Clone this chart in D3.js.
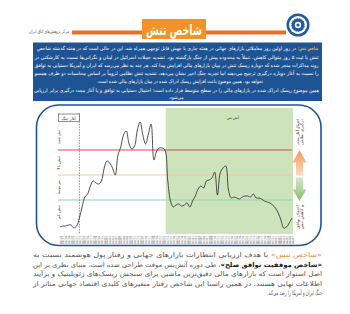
<!DOCTYPE html>
<html>
<head>
<meta charset="utf-8">
<script src="https://cdn.jsdelivr.net/npm/d3@7"></script>
<style>
  body { margin: 0; background: #fff; }
  svg { display: block; font-family: "DejaVu Sans", sans-serif; }
</style>
</head>
<body>
<div id="chart"></div>
<script>
// x-axis date labels (one per observation)
const dates = [
  "03/16","03/17","03/18","03/19","03/20","03/21","03/22","03/23","03/24","03/25",
  "03/26","03/27","03/28","03/29","03/30","03/31","04/01","04/02","04/03","04/04",
  "04/05","04/06","04/07","04/08","04/09","04/10","04/11","04/12","04/13","04/14",
  "04/15","04/16","04/17","04/18","04/19","04/20","04/21","04/22","04/23","04/24",
  "04/25","04/26","04/27","04/28","04/29","04/30","04/31","05/01","05/02","05/03",
  "05/04","05/05","05/06","05/07","05/08","05/09","05/10","05/11","05/12","05/13",
  "05/14","05/15","05/16","05/17","05/18","05/19","05/20","05/21","05/22","05/23",
  "05/24","05/25","05/26","05/27","05/28","05/29","05/30","05/31","06/01","06/02",
  "06/03","06/04","06/05","06/06","06/07"
];

// tension index values
const tension = [
  -2, -1, -1, 0, 0, -3, -1, 7, 18, 28,
  31, 39, 44, 42, 41, 44, 57, 64, 62, 57,
  50, 70, 78, 90, 94, 81, 76, 79, 95, 103,
  90, 81, 91, 101, 65, 74, 77, 77, 75, 45,
  24, 18, 20, 21, 19, 20, 22, 18, 24, 29,
  36, 39, 37, 44, 45, 47, 53, 30, 52, 57,
  59, 35, 27, 28, 27, 26, 28, 29, 29, 28,
  31, 27, 27, 26, 24, 23, 22, 20, 17, 12,
  5, -3, -2, 2, 7
];

// threshold levels: high, mid, low
const levels = [75, 50, 25];
const levelColors = ["#e2464a", "#f3c6ae", "#8ed3b0"];
const bandLabels = ["تنش شدید", "تنش بالا", "تنش متوسط", "تنش کم"];
const bandLabelAt = [88, 62, 38, 13];

const warStart = 7;          // index of war start
const ceasefireStart = 38.3; // index where the ceasefire shading begins

const titleText = "شاخص تنش";
const sourceText = "مرکز پژوهش\u200cهای اتاق ایران";
const introLead = "شاخص تنش:";
const introLines = [
  "در روز اولین روز معاملاتی بازارهای جهانی در هفته جاری با جهش قابل توجهی همراه شد. این در حالی است که در هفته گذشته شاخص",
  "تنش با ثبت ۵ روز متوالی کاهش، عملاً به محدوده پیش از جنگ بازگشته بود. تشدید حملات اسرائیل در لبنان و نگرانی\u200cها نسبت به کارشکنی در",
  "روند مذاکرات منجر شده که دوباره ریسک تنش در میان بازارهای مالی افزایش پیدا کند. هر چند به نظر می\u200cرسد که ایران و آمریکا دستیابی به توافق",
  "را نسبت به آغاز دوباره درگیری ترجیح می\u200cدهند اما تجربه جنگ اخیر نشان می\u200cدهد، تشدید تنش نظامی لزوماً بر اساس محاسبات دو طرف همسو",
  "نخواهد بود. همین موضوع باعث افزایش ریسک ادراک شده در میان بازارهای مالی شده است.",
  "همین موضوع ریسک ادراک شده در بازارهای مالی را در سطح متوسط قرار داده است؛ احتمال دستیابی به توافق و یا آغاز مجدد درگیری برابر ارزیابی",
  "می\u200cشود."
];
const warLabel = "آغاز جنگ";
const ceasefireLabel = "آتش بس";
const upLabel = ["احتمال آغاز مجدد", "درگیری نظامی"];
const downLabel = ["احتمال توافق", "و کاهش تنش"];

const noteLeads = ["«شاخص تنش»", "«شاخص موفقیت توافق صلح»", "", "", ""];
const noteLines = [
  " با هدف ارزیابی انتظارات بازارهای جهانی و رفتار پول هوشمند نسبت به",
  "، طی دوره آتش\u200cبس موقت طراحی شده است. مبنای نظری بر این",
  "اصل استوار است که بازارهای مالی دقیق\u200cترین ماشین برای سنجش ریسک\u200cهای ژئوپلیتیک و برآیند",
  "اطلاعات نهایی هستند. در همین راستا این شاخص رفتار متغیرهای کلیدی اقتصاد جهانی متاثر از",
  "جنگ ایران و آمریکا را رصد می\u200cکند."
];

const svg = d3.select("#chart")
  .append("svg")
  .attr("width", 350)
  .attr("height", 314);

const defs = svg.append("defs");
const gUp = defs.append("linearGradient").attr("id", "gUp").attr("x1", 0).attr("y1", 0).attr("x2", 0).attr("y2", 1);
gUp.append("stop").attr("offset", "0%").attr("stop-color", "#f39a5c");
gUp.append("stop").attr("offset", "100%").attr("stop-color", "#fbd9c2");
const gDown = defs.append("linearGradient").attr("id", "gDown").attr("x1", 0).attr("y1", 0).attr("x2", 0).attr("y2", 1);
gDown.append("stop").attr("offset", "0%").attr("stop-color", "#d3e8c6");
gDown.append("stop").attr("offset", "100%").attr("stop-color", "#88bd74");

// ---- header ----
svg.append("rect")
  .attr("x", 72).attr("y", 30.5).attr("width", 214).attr("height", 4)
  .attr("fill", "#e8702a");

svg.append("rect")
  .attr("x", 142).attr("y", 19).attr("width", 64).attr("height", 20)
  .attr("fill", "#f39325");

svg.append("text")
  .attr("x", 174).attr("y", 34.5)
  .attr("text-anchor", "middle")
  .attr("direction", "rtl")
  .attr("font-size", 14)
  .attr("font-weight", "bold")
  .attr("fill", "#fff")
  .attr("textLength", 56)
  .attr("lengthAdjust", "spacingAndGlyphs")
  .text(titleText);

svg.append("text")
  .attr("x", 49).attr("y", 33)
  .attr("text-anchor", "middle")
  .attr("direction", "rtl")
  .attr("font-size", 5)
  .attr("fill", "#555")
  .attr("textLength", 40)
  .attr("lengthAdjust", "spacingAndGlyphs")
  .text(sourceText);

const logo = svg.append("g").attr("transform", "translate(298,25)");
logo.append("circle").attr("r", 11.5).attr("fill", "#2458a0");
logo.append("circle").attr("r", 9).attr("fill", "#fff");
logo.append("circle").attr("r", 7).attr("fill", "#2458a0")
  .attr("stroke", "#fff").attr("stroke-width", 1.2).attr("stroke-dasharray", "1.5,1.2");
logo.append("circle").attr("r", 3.2).attr("fill", "#fff");
logo.append("circle").attr("r", 1.6).attr("fill", "#2458a0");

// ---- intro box ----
svg.append("rect")
  .attr("x", 33).attr("y", 42.5).attr("width", 289).attr("height", 58.5)
  .attr("fill", "#1f5494");

// [centre x, width] of each intro line
const introFit = [[166.5, 259], [176.5, 284], [176.5, 284], [176.5, 284], [180, 166], [176.5, 285], [176, 15]];
const introY = [50.2, 58.6, 66.9, 75.1, 83.4, 91.6, 99.2];

svg.append("text")
  .attr("x", 308).attr("y", introY[0])
  .attr("text-anchor", "middle")
  .attr("direction", "rtl")
  .attr("font-size", 4.9)
  .attr("font-weight", "bold")
  .attr("fill", "#f9b233")
  .attr("textLength", 20)
  .attr("lengthAdjust", "spacingAndGlyphs")
  .text(introLead);

introLines.forEach((line, i) => {
  svg.append("text")
    .attr("x", introFit[i][0]).attr("y", introY[i])
    .attr("text-anchor", "middle")
    .attr("direction", "rtl")
    .attr("font-size", 4.9)
    .attr("fill", "#fff")
    .attr("textLength", introFit[i][1])
    .attr("lengthAdjust", "spacingAndGlyphs")
    .text(line);
});

// ---- chart frame ----
svg.append("rect")
  .attr("x", 36.5).attr("y", 105).attr("width", 284.5).attr("height", 140.5)
  .attr("rx", 22).attr("ry", 22)
  .attr("fill", "none")
  .attr("stroke", "#1f5494")
  .attr("stroke-width", 1.6);

const x = d3.scaleLinear().domain([0, tension.length - 1]).range([60, 292]);
const y = d3.scaleLinear().domain([-8, 117]).range([233, 108]);

// ceasefire shading
svg.append("rect")
  .attr("x", x(ceasefireStart))
  .attr("y", y(117))
  .attr("width", x(tension.length - 1) + 1 - x(ceasefireStart))
  .attr("height", y(-8) - y(117) + 1)
  .attr("fill", "#cde3bb");

// threshold lines
svg.selectAll(".level")
  .data(levels)
  .enter()
  .append("line")
  .attr("class", "level")
  .attr("x1", x(0) - 2).attr("x2", x(tension.length - 1))
  .attr("y1", d => y(d)).attr("y2", d => y(d))
  .attr("stroke", (d, i) => levelColors[i])
  .attr("stroke-width", 1.1);

// band labels on the left
svg.selectAll(".band")
  .data(bandLabels)
  .enter()
  .append("text")
  .attr("class", "band")
  .attr("transform", (d, i) => `translate(58.5,${y(bandLabelAt[i])}) rotate(-90)`)
  .attr("text-anchor", "middle")
  .attr("direction", "rtl")
  .attr("dy", "0.35em")
  .attr("font-size", 4.2)
  .attr("fill", "#444")
  .attr("textLength", 14)
  .attr("lengthAdjust", "spacingAndGlyphs")
  .text(d => d);

// war start marker
svg.append("line")
  .attr("x1", x(warStart)).attr("x2", x(warStart))
  .attr("y1", 113).attr("y2", 234)
  .attr("stroke", "#555")
  .attr("stroke-width", 0.7)
  .attr("stroke-dasharray", "1.5,1.2");

svg.append("rect")
  .attr("x", x(warStart) - 21).attr("y", 114)
  .attr("width", 21).attr("height", 7.5)
  .attr("fill", "#fff")
  .attr("stroke", "#444")
  .attr("stroke-width", 0.6);

svg.append("text")
  .attr("x", x(warStart) - 10.5).attr("y", 119.6)
  .attr("text-anchor", "middle")
  .attr("direction", "rtl")
  .attr("font-size", 4)
  .attr("fill", "#222")
  .attr("textLength", 14)
  .attr("lengthAdjust", "spacingAndGlyphs")
  .text(warLabel);

svg.append("text")
  .attr("x", 233).attr("y", 119)
  .attr("text-anchor", "middle")
  .attr("direction", "rtl")
  .attr("font-size", 4.2)
  .attr("fill", "#333")
  .attr("textLength", 12)
  .attr("lengthAdjust", "spacingAndGlyphs")
  .text(ceasefireLabel);

// tension line
const line = d3.line()
  .x((d, i) => x(i))
  .y(d => y(d))
  .curve(d3.curveCatmullRom.alpha(0.5));

svg.append("path")
  .datum(tension)
  .attr("d", line)
  .attr("fill", "none")
  .attr("stroke", "#3b3b3b")
  .attr("stroke-width", 0.9);

// x axis
const xAxis = svg.append("g")
  .attr("transform", "translate(0,236)")
  .call(d3.axisBottom(x)
    .tickValues(d3.range(dates.length))
    .tickFormat(i => dates[i])
    .tickSize(0));
xAxis.select(".domain").remove();
xAxis.selectAll("text")
  .attr("x", 0).attr("y", 0)
  .attr("dy", "0.35em")
  .attr("text-anchor", "end")
  .attr("transform", "rotate(-90)")
  .attr("font-size", 2.9)
  .attr("font-family", "DejaVu Sans")
  .attr("fill", "#666");

// right-side arrows
const ax = 299.5;
svg.append("path")
  .attr("d", `M${ax},150 L${ax + 7},162.5 L${ax + 3.5},162.5 L${ax + 3.5},175.5 L${ax - 3.5},175.5 L${ax - 3.5},162.5 L${ax - 7},162.5 Z`)
  .attr("fill", "url(#gUp)");
svg.append("path")
  .attr("d", `M${ax - 3.5},177.5 L${ax + 3.5},177.5 L${ax + 3.5},189.5 L${ax + 7},189.5 L${ax},201 L${ax - 7},189.5 L${ax - 3.5},189.5 Z`)
  .attr("fill", "url(#gDown)");

function sideLabel(lines, cy, len) {
  lines.forEach((s, i) => {
    svg.append("text")
      .attr("transform", `translate(${ax - 2.2 + i * 4.4},${cy}) rotate(-90)`)
      .attr("text-anchor", "middle")
      .attr("direction", "rtl")
      .attr("dy", "0.35em")
      .attr("font-size", 3.8)
      .attr("fill", "#333")
      .attr("textLength", len)
      .attr("lengthAdjust", "spacingAndGlyphs")
      .text(s);
  });
}
sideLabel(upLabel, 132, 26);
sideLabel(downLabel, 217, 24);

// ---- bottom note ----
const noteY = [257.3, 266.8, 276.2, 285.6, 295];
const noteFit = [[177.5, 289], [177.5, 289], [177.5, 289], [177.5, 289], [294.5, 55]];
noteLines.forEach((line, i) => {
  const t = svg.append("text")
    .attr("x", noteFit[i][0]).attr("y", noteY[i])
    .attr("text-anchor", "middle")
    .attr("direction", "rtl")
    .attr("font-size", 6.6)
    .attr("fill", "#555")
    .attr("textLength", noteFit[i][1])
    .attr("lengthAdjust", "spacingAndGlyphs");
  if (noteLeads[i]) {
    t.append("tspan")
      .attr("fill", i === 0 ? "#ea8a3e" : "#222")
      .attr("font-weight", i === 0 ? "normal" : "bold")
      .text(noteLeads[i]);
  }
  t.append("tspan").text(line);
});
</script>
</body>
</html>
